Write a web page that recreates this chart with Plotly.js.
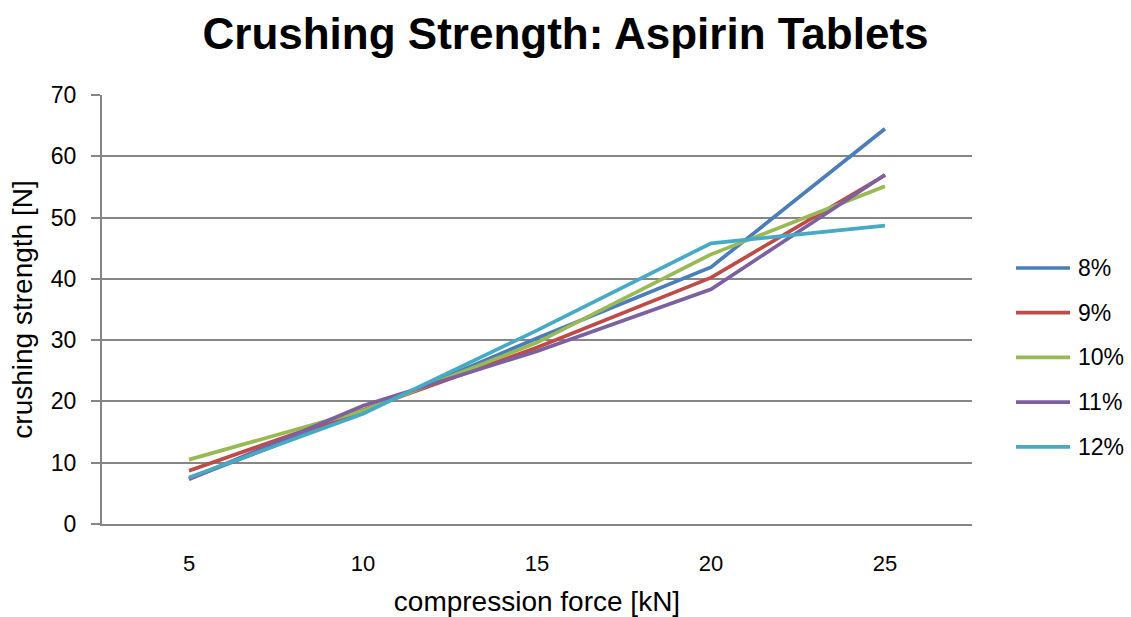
<!DOCTYPE html>
<html>
<head>
<meta charset="utf-8">
<script src="https://cdn.plot.ly/plotly-3.0.1.min.js"></script>
<style>
  html, body { margin: 0; padding: 0; background: #ffffff; }
  #chart { width: 1131px; height: 617px; }
</style>
</head>
<body>
<div id="chart"></div>
<script>
// Compression force categories [kN]
const forces = ['5', '10', '15', '20', '25'];

// Crushing strength [N] per binder level
const s8  = [7.4, 18.3, 30.3, 41.9, 64.5];
const s9  = [8.7, 18.6, 28.8, 40.2, 56.9];
const s10 = [10.5, 18.5, 29.6, 44.0, 55.1];
const s11 = [7.3, 19.3, 28.2, 38.3, 57.0];
const s12 = [7.6, 18.0, 31.6, 45.8, 48.7];

const seriesNames = ['8%', '9%', '10%', '11%', '12%'];
const seriesValues = [s8, s9, s10, s11, s12];
const seriesColors = ['#4a7ebb', '#be4b48', '#98b954', '#7d60a0', '#46aac5'];

const traces = seriesValues.map((vals, i) => ({
  type: 'scatter',
  mode: 'lines',
  name: seriesNames[i],
  x: forces,
  y: vals,
  line: { color: seriesColors[i], width: 3.7 }
}));

const W = 1131, H = 617;
const M = { l: 102, r: 159, t: 95, b: 93 };
const plotW = W - M.l - M.r;
const plotH = H - M.t - M.b;
const toPaperX = px => (px - M.l) / plotW;
const toPaperY = py => (H - M.b - py) / plotH;

// Legend drawn at the right of the plot: a line sample and a label per series
const legendTop = 268, legendStep = 44.7;
const legendShapes = [];
const legendLabels = [];
seriesNames.forEach((name, i) => {
  const py = legendTop + i * legendStep;
  legendShapes.push({
    type: 'line', xref: 'paper', yref: 'paper',
    x0: toPaperX(1016), x1: toPaperX(1070),
    y0: toPaperY(py), y1: toPaperY(py),
    line: { color: seriesColors[i], width: 3.7 }
  });
  legendLabels.push({
    xref: 'paper', yref: 'paper',
    x: toPaperX(1076), y: toPaperY(py),
    xanchor: 'left', yanchor: 'middle',
    text: name, showarrow: false,
    font: { family: '"Liberation Sans", Arial, sans-serif', size: 23, color: '#000000' }
  });
});

const axisGrey = '#868686';
const sans = '"Liberation Sans", Arial, sans-serif';

const layout = {
  width: W,
  height: H,
  paper_bgcolor: '#ffffff',
  plot_bgcolor: '#ffffff',
  margin: { l: M.l, r: M.r, t: M.t, b: M.b, autoexpand: false },
  showlegend: false,
  title: {
    text: '<b>Crushing Strength: Aspirin Tablets</b>',
    font: { family: sans, size: 44, color: '#000000' },
    xref: 'container', x: 0.5, xanchor: 'center',
    yref: 'container', y: 0.945, yanchor: 'middle'
  },
  xaxis: {
    type: 'category',
    range: [-0.5, 4.5],
    showgrid: false,
    zeroline: false,
    showline: true,
    linecolor: axisGrey,
    linewidth: 2,
    ticks: '',
    tickfont: { family: sans, size: 22, color: '#000000' },
    ticklabelstandoff: 19,
    title: {
      text: 'compression force [kN]',
      font: { family: sans, size: 28, color: '#000000' },
      standoff: 18
    }
  },
  yaxis: {
    range: [0, 70],
    dtick: 10,
    showgrid: true,
    gridcolor: axisGrey,
    gridwidth: 2,
    zeroline: false,
    showline: true,
    linecolor: axisGrey,
    linewidth: 2,
    ticks: 'outside',
    ticklen: 9,
    tickwidth: 2,
    tickcolor: axisGrey,
    tickfont: { family: sans, size: 23, color: '#000000' },
    ticklabelstandoff: 10,
    title: {
      text: 'crushing strength [N]',
      font: { family: sans, size: 28, color: '#000000' },
      standoff: 10
    }
  },
  shapes: legendShapes,
  annotations: legendLabels
};

Plotly.newPlot('chart', traces, layout, { staticPlot: true, displayModeBar: false });
</script>
</body>
</html>
